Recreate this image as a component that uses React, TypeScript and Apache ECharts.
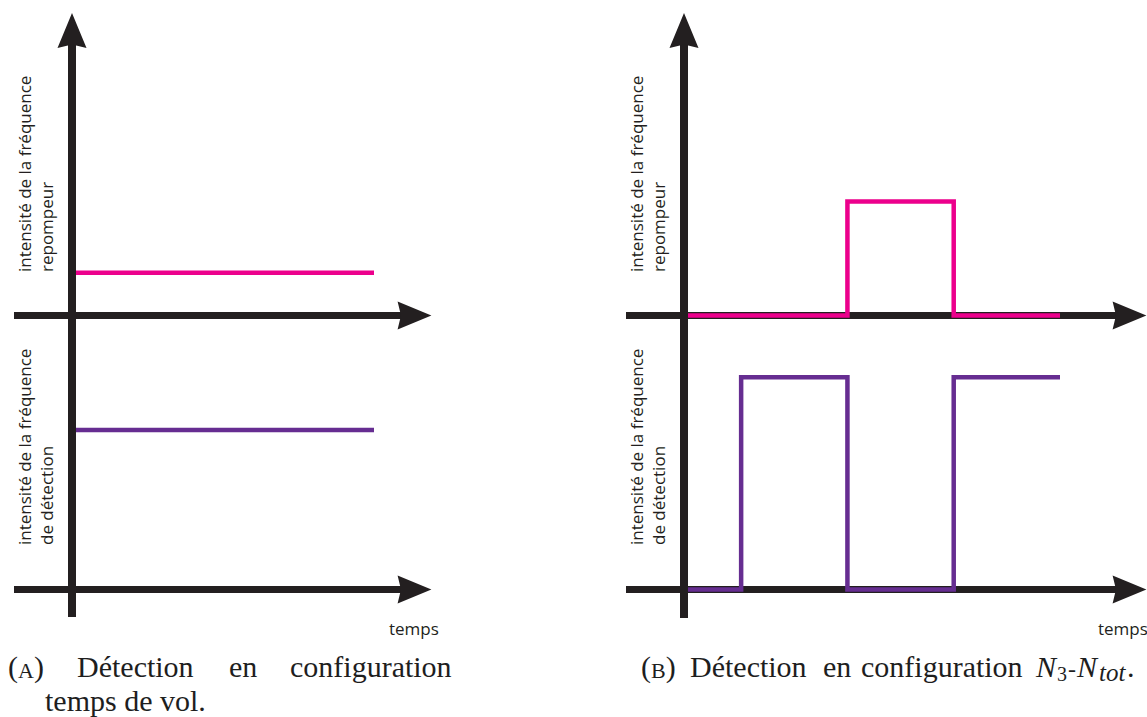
import React, { useEffect, useRef } from 'react';
import * as echarts from 'echarts';

// ---------- data ----------
const timeA = [0, 7];
const repompeurA = [0.15, 0.15];
const detectionA = [0.56, 0.56];

const timeB = [0, 1, 3, 5, 7];
const repompeurB = [0, 0, 0.4, 0, 0];
const detectionB = [0, 0.745, 0, 0.745, 0.745];

const yLabelRepompeur = 'intensité de la fréquence\nrepompeur';
const yLabelDetection = 'intensité de la fréquence\nde détection';
const xLabel = 'temps';

// ---------- style ----------
const INK = '#231f20';
const PINK = '#ec008c';
const PURPLE = '#662d91';
const TEXT = '#1e1e1e';
const SANS = '"Open Sans", "Noto Sans", sans-serif';
const SERIF = '"Liberation Serif", "DejaVu Serif", serif';
const ARROW = 'path://M14.5 0 L29 35 L14.5 31.5 L0 35 Z';

const panels = [
  { originX: 76, unit: 298 / 7, axisX: 72, axisLeft: 14, axisEnd: 414.5, vBottom: 617, labelX: 13, tempsX: 389, time: timeA, rep: repompeurA, det: detectionA },
  { originX: 688, unit: 372 / 7, axisX: 684, axisLeft: 626, axisEnd: 1129.5, vBottom: 618, labelX: 625, tempsX: 1098, time: timeB, rep: repompeurB, det: detectionB },
];

const TOP = 30.5;
const H = 285;
const UPPER_TOP = TOP;
const LOWER_TOP = 589.5 - H;

function buildOption() {
  const grid: any[] = [];
  const xAxis: any[] = [];
  const yAxis: any[] = [];
  const series: any[] = [];
  const graphic: any[] = [];

  panels.forEach((p) => {
    const base = grid.length;
    // vertical axis grid
    grid.push({ left: p.axisX, top: TOP, width: 10, height: p.vBottom - TOP, containLabel: false, outerBoundsMode: 'none' });
    xAxis.push({ gridIndex: base, type: 'value', show: false });
    yAxis.push({
      gridIndex: base, type: 'value', min: 0, max: 1,
      axisLine: { show: true, onZero: false, symbol: ['none', ARROW], symbolSize: [29, 35], lineStyle: { color: INK, width: 8, cap: 'butt' } },
      axisTick: { show: false }, axisLabel: { show: false }, splitLine: { show: false },
    });
    // upper & lower grids
    [UPPER_TOP, LOWER_TOP].forEach((top, k) => {
      const gi = grid.length;
      grid.push({ left: p.axisLeft, top, width: p.axisEnd - p.axisLeft, height: H, containLabel: false, outerBoundsMode: 'none' });
      xAxis.push({
        gridIndex: gi, type: 'value',
        min: (p.axisLeft - p.originX) / p.unit, max: (p.axisEnd - p.originX) / p.unit,
        axisLine: { show: true, onZero: false, symbol: ['none', ARROW], symbolSize: [28, 35], lineStyle: { color: INK, width: 7, cap: 'butt' } },
        axisTick: { show: false }, axisLabel: { show: false }, splitLine: { show: false },
      });
      yAxis.push({ gridIndex: gi, type: 'value', min: 0, max: 1, show: false });
      const vals = k === 0 ? p.rep : p.det;
      series.push({
        type: 'line', xAxisIndex: gi, yAxisIndex: gi, step: 'end', symbol: 'none', clip: false, silent: true, z: 5,
        data: p.time.map((t, i) => [t, vals[i]]),
        lineStyle: { color: k === 0 ? PINK : PURPLE, width: 4.5, cap: 'butt', join: 'miter' },
      });
    });
    // rotated axis titles
    [[272, yLabelRepompeur], [545, yLabelDetection]].forEach(([y, txt]) => {
      graphic.push({
        type: 'text', x: p.labelX, y: y as number, rotation: Math.PI / 2,
        style: { text: txt as string, fontFamily: SANS, fontSize: 17, lineHeight: 22, fill: INK, align: 'left', verticalAlign: 'top' },
      });
    });
    graphic.push({
      type: 'text', x: p.tempsX, y: 628,
      style: { text: xLabel, fontFamily: SANS, fontSize: 17, fill: INK, align: 'left', verticalAlign: 'middle' },
    });
  });

  // captions
  const FS = 30;
  const yMid = (baseline: number, fs: number) => baseline - 0.3375 * fs;
  const word = (text: string, x: number, baseline: number, fs = FS, italic = false) => ({
    type: 'text', x, y: yMid(baseline, fs),
    style: { text, fontFamily: SERIF, fontSize: fs, fontStyle: italic ? 'italic' : 'normal', fill: TEXT, align: 'left', verticalAlign: 'middle' },
  });
  const sc = (letter: string, x: number, baseline: number) => ({
    type: 'text', x, y: baseline + 0.1625 * FS,
    style: {
      text: `{p|(}{s|${letter}}{p|)}`, fontFamily: SERIF, fill: TEXT, align: 'left', verticalAlign: 'bottom',
      rich: { p: { fontFamily: SERIF, fontSize: FS, fill: TEXT, verticalAlign: 'bottom' }, s: { fontFamily: SERIF, fontSize: 22, fill: TEXT, verticalAlign: 'bottom' } },
    },
  });
  graphic.push(sc('A', 8, 677));
  graphic.push(word('Détection', 77, 677));
  graphic.push(word('en', 229, 677));
  graphic.push(word('configuration', 290, 677));
  graphic.push(word('temps de vol.', 45, 711));

  graphic.push(sc('B', 641, 677));
  graphic.push(word('Détection', 690, 677));
  graphic.push(word('en', 823, 677));
  graphic.push(word('configuration', 861, 677));
  graphic.push(word('N', 1036, 677, FS, true));
  graphic.push(word('3', 1057, 681, 20));
  graphic.push(word('-', 1068, 677, 24));
  graphic.push(word('N', 1077, 677, FS, true));
  graphic.push(word('tot', 1099, 681, 25, true));
  graphic.push(word('.', 1127, 677));

  return {
    animation: false,
    backgroundColor: '#ffffff',
    grid, xAxis, yAxis, series, graphic,
  };
}

export default function App() {
  const ref = useRef<HTMLDivElement>(null);
  useEffect(() => {
    if (!ref.current) return;
    const chart = echarts.init(ref.current, undefined, { renderer: 'svg' });
    chart.setOption(buildOption() as any);
    return () => chart.dispose();
  }, []);
  return <div ref={ref} style={{ position: 'fixed', left: 0, top: 0, width: 1147, height: 717, background: '#fff' }} />;
}
